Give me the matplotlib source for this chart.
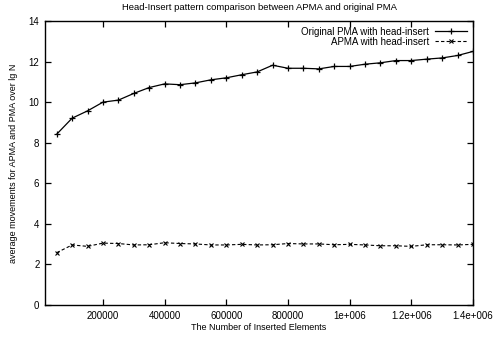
import matplotlib
matplotlib.use("Agg")
import matplotlib.pyplot as plt

plt.rcParams['font.family'] = ['Liberation Sans', 'DejaVu Sans']

n_elements = [50000 * i for i in range(1, 29)]
pma = [8.42, 9.21, 9.57, 10.0, 10.1, 10.43, 10.72, 10.9, 10.86, 10.95,
       11.1, 11.2, 11.35, 11.49, 11.82, 11.67, 11.67, 11.64, 11.76, 11.76,
       11.87, 11.94, 12.05, 12.05, 12.12, 12.18, 12.3, 12.5]
apma = [2.58, 2.96, 2.89, 3.05, 3.03, 2.96, 2.97, 3.07, 3.03, 3.01,
        2.96, 2.96, 2.99, 2.96, 2.97, 3.03, 3.01, 3.01, 2.97, 2.99,
        2.96, 2.92, 2.92, 2.89, 2.97, 2.97, 2.96, 2.99]
xticks = [200000, 400000, 600000, 800000, 1000000, 1200000, 1400000]
xticklabels = ["200000", "400000", "600000", "800000", "1e+006", "1.2e+006", "1.4e+006"]
yticks = [0, 2, 4, 6, 8, 10, 12, 14]

W, H = 493, 339
fig = plt.figure(figsize=(W / 100, H / 100), dpi=100)
ax = fig.add_axes([45 / W, 1 - 305 / H, (473 - 45) / W, (305 - 21) / H])

ax.plot(n_elements, pma, color='black', lw=0.9, marker='+', ms=5, mew=0.9,
        label='Original PMA with head-insert')
ax.plot(n_elements, apma, color='black', lw=0.8, ls=(0, (3, 2)), marker='x', ms=3.5, mew=0.8,
        label='APMA with head-insert')

ax.set_xlim(12000, 1400000)
ax.set_ylim(0, 14)
ax.set_xticks(xticks)
ax.set_xticklabels(xticklabels)
ax.set_yticks(yticks)
ax.tick_params(direction='in', length=4, width=0.9, labelsize=7, top=True, right=True, pad=4)
for s in ax.spines.values():
    s.set_linewidth(1.0)

ax.set_title('Head-Insert pattern comparison between APMA and original PMA', fontsize=6.8, pad=8)
ax.set_xlabel('The Number of Inserted Elements', fontsize=6.5, labelpad=2)
ax.set_ylabel('average movements for APMA and PMA over lg N', fontsize=6.5, labelpad=8)

leg = ax.legend(loc='upper right', frameon=False, fontsize=7, markerfirst=False,
                handlelength=3.3, handletextpad=0.6, borderaxespad=0.2, labelspacing=0.0)
for t in leg.get_texts():
    t.set_ha('right')

fig.savefig('out.png', dpi=100)
